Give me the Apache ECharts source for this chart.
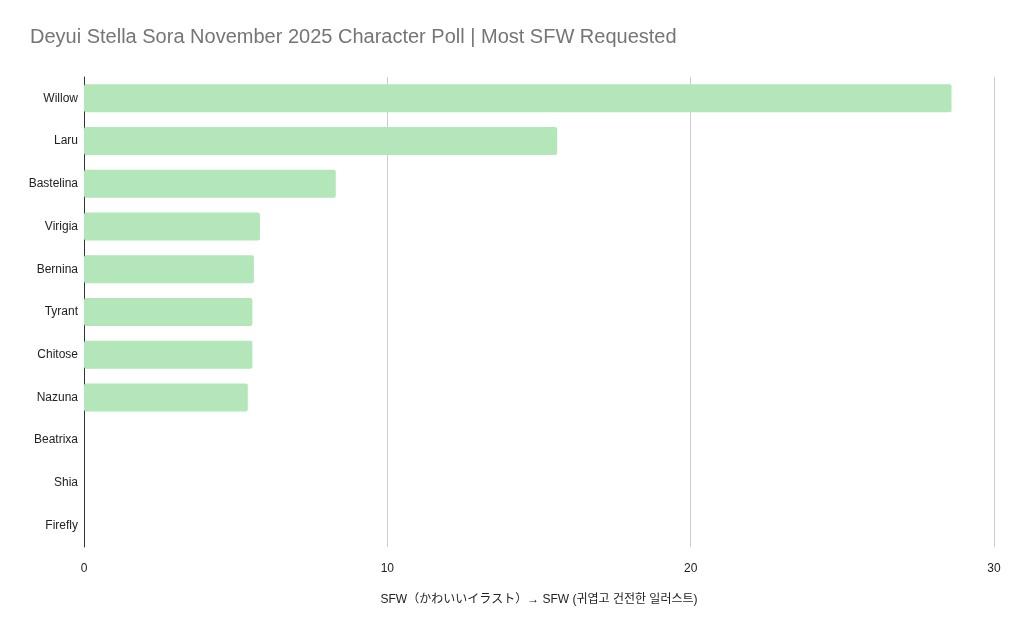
<!DOCTYPE html>
<html>
<head>
<meta charset="utf-8">
<script src="https://cdn.jsdelivr.net/npm/echarts@6/dist/echarts.min.js"></script>
<style>
  html, body { margin: 0; padding: 0; background: #fff; }
  #chart { width: 1023px; height: 633px; }
</style>
</head>
<body>
<div id="chart"></div>
<script>
// poll results, top to bottom
const characters = ['Willow', 'Laru', 'Bastelina', 'Virigia', 'Bernina', 'Tyrant', 'Chitose', 'Nazuna', 'Beatrixa', 'Shia', 'Firefly'];
const sfwValues = [28.6, 15.6, 8.3, 5.8, 5.6, 5.55, 5.55, 5.4, 0, 0, 0];
const xTicks = [0, 10, 20, 30];

const chart = echarts.init(document.getElementById('chart'));

chart.setOption({
  animation: false,
  textStyle: { fontFamily: 'Liberation Sans, Arial, sans-serif' },
  title: {
    text: 'Deyui Stella Sora November 2025 Character Poll | Most SFW Requested',
    left: 25,
    top: 22,
    textStyle: { color: '#757575', fontSize: 20, fontWeight: 'normal' }
  },
  grid: { left: 84, right: 29, top: 77, bottom: 86, containLabel: false },
  xAxis: {
    type: 'value',
    min: 0,
    max: 30,
    interval: 10,
    name: 'SFW（かわいいイラスト）→ SFW (귀엽고 건전한 일러스트)',
    nameLocation: 'middle',
    nameGap: 47,
    nameTextStyle: {
      color: '#222',
      fontSize: 12,
      fontFamily: 'Liberation Sans, "Noto Sans CJK JP", "Noto Sans CJK KR", sans-serif'
    },
    axisLine: { show: false },
    axisTick: { show: false },
    axisLabel: {
      color: '#222',
      fontSize: 12,
      margin: 16,
      formatter: v => xTicks.includes(v) ? String(v) : ''
    },
    splitLine: { show: true, lineStyle: { color: '#cccccc', width: 1 } }
  },
  yAxis: {
    type: 'category',
    inverse: true,
    data: characters,
    axisLine: { show: true, lineStyle: { color: '#333', width: 1 } },
    axisTick: { show: false },
    axisLabel: { color: '#222', fontSize: 12, margin: 6 }
  },
  series: [{
    type: 'bar',
    data: sfwValues,
    barWidth: 28,
    itemStyle: { color: '#b3e6b9', borderRadius: 2 }
  }]
});
</script>
</body>
</html>
